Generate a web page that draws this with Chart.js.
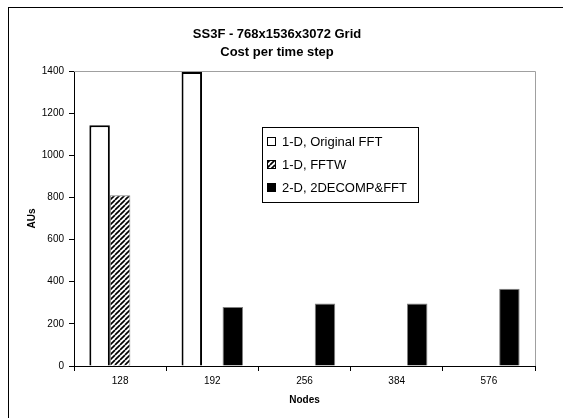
<!DOCTYPE html>
<html>
<head>
<meta charset="utf-8">
<script src="https://cdn.jsdelivr.net/npm/chart.js@4.4.1/dist/chart.umd.min.js"></script>
<style>
  html, body { margin: 0; padding: 0; background: #fff; overflow: hidden; }
  #wrap { position: relative; width: 563px; height: 418px; }
</style>
</head>
<body>
<div id="wrap"><canvas id="c" width="563" height="418"></canvas></div>
<script>
const categories = ['128', '192', '256', '384', '576'];
const originalFFT = [1143, 1395, null, null, null];
const fftw = [810, null, null, null, null];
const decomp2d = [null, 280, 297, 297, 367];
const seriesLabels = ['1-D, Original FFT', '1-D, FFTW', '2-D, 2DECOMP&FFT'];
const chartTitle = ['SS3F - 768x1536x3072 Grid', 'Cost per time step'];
const xTitle = 'Nodes';
const yTitle = 'AUs';

const FONT = '"Liberation Sans", Arial, sans-serif';

function makeHatch() {
  const n = 5;
  const c = document.createElement('canvas');
  c.width = n; c.height = n;
  const g = c.getContext('2d');
  g.fillStyle = '#fff';
  g.fillRect(0, 0, n, n);
  g.strokeStyle = '#000';
  g.lineWidth = 1.7;
  for (const o of [-n, 0, n]) {
    g.beginPath();
    g.moveTo(o, n);
    g.lineTo(o + n, 0);
    g.stroke();
  }
  return g.createPattern(c, 'repeat');
}
const ctx0 = document.getElementById('c').getContext('2d');
const hatch = makeHatch();

const frame = {
  id: 'frame',
  beforeDraw(chart) {
    const g = chart.ctx;
    g.save();
    g.fillStyle = '#fff';
    g.fillRect(0, 0, chart.width, chart.height);
    g.strokeStyle = '#000';
    g.lineWidth = 1;
    g.strokeRect(8.5, 7.5, 600, 450);
    g.restore();
  },
  beforeDatasetsDraw(chart) {
    const a = chart.chartArea;
    const g = chart.ctx;
    g.save();
    g.strokeStyle = '#a0a0a0';
    g.lineWidth = 1;
    g.beginPath();
    g.moveTo(a.left, Math.round(a.top) + 0.5);
    g.lineTo(Math.round(a.right) + 0.5, Math.round(a.top) + 0.5);
    g.lineTo(Math.round(a.right) + 0.5, a.bottom);
    g.stroke();
    g.restore();
  },
  afterDraw(chart) {
    const g = chart.ctx;
    const bx = 262.5, by = 127.5, bw = 156, bh = 75;
    g.save();
    g.fillStyle = '#fff';
    g.fillRect(bx, by, bw, bh);
    g.strokeStyle = '#000';
    g.lineWidth = 1;
    g.strokeRect(bx, by, bw, bh);
    const rows = [141, 164, 187];
    g.font = '13px ' + FONT;
    g.textBaseline = 'middle';
    g.textAlign = 'left';
    chart.data.datasets.forEach((ds, i) => {
      const y = rows[i];
      g.fillStyle = ds.backgroundColor;
      g.fillRect(267, y - 4, 8, 8);
      g.strokeStyle = '#000';
      g.lineWidth = 1;
      g.strokeRect(267.5, y - 3.5, 8, 8);
      g.fillStyle = '#000';
      g.fillText(ds.label, 282, y + 1);
    });
    g.restore();
  }
};

new Chart(ctx0, {
  type: 'bar',
  data: {
    labels: categories,
    datasets: [
      { label: seriesLabels[0], data: originalFFT, backgroundColor: '#ffffff', borderColor: '#000000', borderWidth: 2 },
      { label: seriesLabels[1], data: fftw, backgroundColor: hatch, borderColor: '#808080', borderWidth: 1 },
      { label: seriesLabels[2], data: decomp2d, backgroundColor: '#000000', borderColor: '#808080', borderWidth: 1 }
    ]
  },
  options: {
    responsive: false,
    devicePixelRatio: 1,
    animation: false,
    layout: { padding: { left: 8, right: 17, top: 0, bottom: 0 } },
    datasets: { bar: { categoryPercentage: 0.667, barPercentage: 1.0 } },
    plugins: {
      legend: { display: false },
      tooltip: { enabled: false },
      title: {
        display: true,
        text: chartTitle,
        color: '#000',
        font: { family: FONT, size: 13, weight: 'bold', lineHeight: 1.4 },
        padding: { top: 25, bottom: 9.6 }
      }
    },
    scales: {
      x: {
        grid: { display: true, drawOnChartArea: false, drawTicks: true, tickLength: 5, color: '#000', offset: true },
        border: { display: true, color: '#000', width: 1 },
        ticks: { color: '#000', font: { family: FONT, size: 10 }, padding: 4, maxRotation: 0 },
        title: { display: true, text: xTitle, color: '#000', font: { family: FONT, size: 10, weight: 'bold' }, padding: { top: 12, bottom: 12 } },
        afterFit(s) { s.height = 52; }
      },
      y: {
        min: 0, max: 1400,
        grid: { display: true, drawOnChartArea: false, drawTicks: true, tickLength: 5, color: '#000' },
        border: { display: true, color: '#000', width: 1 },
        ticks: { stepSize: 200, color: '#000', font: { family: FONT, size: 10 }, padding: 5, callback: (v) => String(v) },
        title: { display: true, text: yTitle, color: '#000', font: { family: FONT, size: 10, weight: 'bold' }, padding: { top: 18, bottom: 18 } },
        afterFit(s) { s.width = 66; }
      },
      yR: {
        position: 'right',
        display: true,
        grid: { display: false, drawTicks: false },
        border: { display: false },
        ticks: { display: false },
        afterFit(s) { s.width = 11; }
      }
    }
  },
  plugins: [frame]
});
</script>
</body>
</html>
